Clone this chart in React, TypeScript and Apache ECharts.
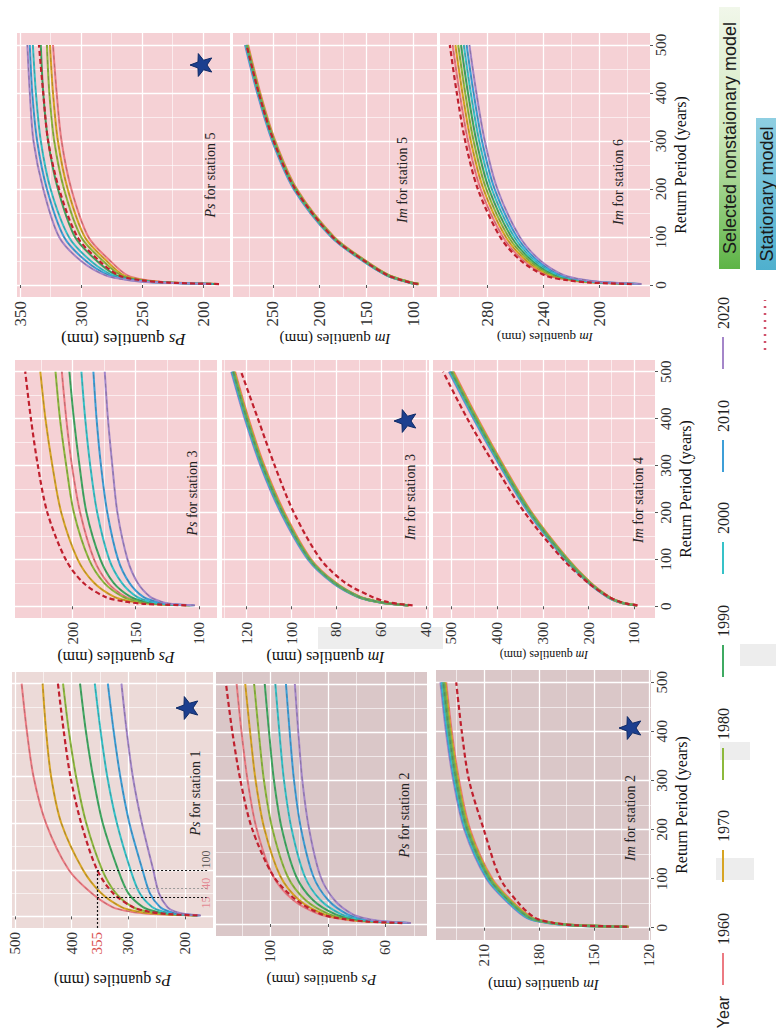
import React, { useEffect, useRef } from 'react';
import * as echarts from 'echarts';

// ---------------- data ----------------
const RP = [2, 5, 10, 20, 50, 100, 200, 300, 400, 500];
const RP_MAJOR = [0, 100, 200, 300, 400, 500];
const RP_MINOR = [50, 150, 250, 350, 450];
const YEARS = ['1960', '1970', '1980', '1990', '2000', '2010', '2020'];

// Ps station 5
const PS5_YEARS = [
  [188, 225, 246, 262, 276, 294, 308, 316, 320, 323],
  [189, 227, 249, 265, 279, 297, 311, 319, 323, 325.5],
  [190, 229, 251, 267, 282, 300, 314, 322, 326, 328],
  [191, 231, 254, 271, 287, 305, 319, 327, 331, 333],
  [192, 233, 257, 274, 292, 310, 325, 333, 337, 339.5],
  [193, 235, 259, 277, 296, 314, 328, 336, 340, 342],
  [194, 237, 261, 280, 300, 318, 331, 339, 342, 344],
];
const PS5_STAT = [187, 228, 251, 269, 285, 303, 318, 327, 331, 334.5];
const PS5_MAJOR = [200, 250, 300, 350];
const PS5_MINOR = [225, 275, 325];

// Im station 5
const IM5_YEARS = [
  [94, 102, 111, 126, 150.5, 184.5, 224.5, 247.5, 263.5, 276.5],
  [94, 102, 111, 126, 151, 185, 225, 248, 264, 277],
  [94.5, 102.5, 111.5, 126.5, 151.5, 185.5, 225.5, 248.5, 264.5, 277.5],
  [95, 103, 112, 127, 152, 186, 226, 249, 265, 278],
  [95.5, 103.5, 112.5, 127.5, 152.5, 186.5, 226.5, 249.5, 265.5, 278.5],
  [96, 104, 113, 128, 153, 187, 227, 250, 266, 279],
  [96, 104, 113, 128, 153.5, 187.5, 227.5, 250.5, 266.5, 279.5],
];
const IM5_STAT = [95, 103, 112, 127, 152, 186, 226, 249, 265, 278];
const IM5_MAJOR = [100, 150, 200, 250];
const IM5_MINOR = [125, 175, 225, 275];

// Im station 6
const IM6_YEARS = [
  [176, 204, 221, 237, 254, 269, 285, 294, 300, 305],
  [175, 203, 219, 235, 252, 267, 283, 292, 298, 303],
  [174, 201, 217, 233, 250, 265, 281, 290, 296, 301],
  [173, 199, 215, 231, 248, 263, 279, 288, 294, 299],
  [172, 197, 213, 229, 246, 261, 277, 286, 292, 297],
  [171, 195, 211, 227, 244, 259, 275, 284, 290, 295],
  [170, 193, 209, 225, 242, 257, 273, 282, 288, 293],
];
const IM6_STAT = [177, 206, 223, 239, 256, 271, 287, 296, 302, 307];
const IM6_MAJOR = [200, 240, 280];
const IM6_MINOR = [180, 220, 260, 300];

// Ps station 3
const PS3_YEARS = [
  [107, 132, 146, 158, 172, 183, 194, 200.5, 205, 208.5],
  [108, 137, 153, 167, 183, 196, 209, 216, 221.5, 225.5],
  [107, 134, 147.5, 160, 175, 187, 199, 205, 210, 213.5],
  [106, 130, 142.5, 154, 167.5, 178, 189, 194.5, 199, 202.5],
  [105, 127, 138.5, 149, 161, 171, 180.5, 186, 190, 193],
  [104, 124, 134, 144, 155, 164, 172.5, 177.5, 181, 183.5],
  [103, 121, 130, 138.5, 148.5, 156.5, 164.5, 168.5, 172, 174.5],
];
const PS3_STAT = [110, 142, 158.5, 174, 191.5, 205.5, 220, 227.5, 233, 237.5];
const PS3_MAJOR = [100, 150, 200];
const PS3_MINOR = [125, 175, 225];

// Im station 3
const IM3_YEARS = [
  [47.5, 54.5, 61.5, 69.5, 80.3, 91.3, 103.2, 112.2, 119.2, 125.2],
  [47.7, 54.7, 61.7, 69.7, 80.6, 91.6, 103.5, 112.5, 119.5, 125.5],
  [47.9, 54.9, 61.9, 69.9, 80.8, 91.8, 103.8, 112.8, 119.8, 125.8],
  [48, 55, 62, 70, 81, 92, 104, 113, 120, 126],
  [48.1, 55.1, 62.1, 70.1, 81.2, 92.2, 104.2, 113.2, 120.2, 126.2],
  [48.3, 55.3, 62.3, 70.3, 81.4, 92.4, 104.5, 113.5, 120.5, 126.5],
  [48.5, 55.5, 62.5, 70.5, 81.7, 92.7, 104.8, 113.8, 120.8, 126.8],
];
const IM3_STAT = [46, 52, 58, 64, 76, 87, 99, 107.5, 115, 122.5];
const IM3_MAJOR = [40, 60, 80, 100, 120];
const IM3_MINOR = [50, 70, 90, 110, 130];

// Im station 4
const IM4_YEARS = [
  [94, 115.5, 133.5, 155, 195.5, 245, 324.5, 386, 442.5, 495],
  [94.3, 116, 134, 155.7, 196.3, 246, 325.7, 387.3, 444, 496.7],
  [94.7, 116.5, 134.5, 156.3, 197.2, 247, 326.8, 388.7, 445.5, 498.3],
  [95, 117, 135, 157, 198, 248, 328, 390, 447, 500],
  [95.3, 117.5, 135.5, 157.7, 198.8, 249, 329.2, 391.3, 448.5, 501.7],
  [95.7, 118, 136, 158.3, 199.7, 250, 330.3, 392.7, 450, 503.3],
  [96, 118.5, 136.5, 159, 200.5, 251, 331.5, 394, 451.5, 505],
];
const IM4_STAT = [93, 114, 133, 156, 201, 256, 340, 405, 465, 518];
const IM4_MAJOR = [100, 200, 300, 400, 500];
const IM4_MINOR = [150, 250, 350, 450];

// Ps station 1
const PS1_YEARS = [
  [185, 255, 295, 328, 365, 405, 445, 467, 479, 488],
  [182, 245, 282, 312, 348, 380, 418, 436, 445, 451],
  [180, 232, 264, 292, 322, 346, 374, 392, 405, 415],
  [178, 222, 250, 274, 300, 318, 345, 362, 375, 385],
  [176, 214, 238, 258, 280, 296, 320, 337, 349, 359],
  [174, 207, 227, 244, 262, 275, 298, 314, 326, 336],
  [172, 200, 217, 231, 246, 256, 276, 292, 303, 312],
];
const PS1_STAT = [178, 232, 264, 292, 327, 355, 383, 402, 414, 424];
const PS1_MAJOR = [200, 300, 400, 500];
const PS1_MINOR = [250, 350, 450];
const PS1_LABELS = [200, 300, 355, 400, 500];
const PS1_MARK_Q = 355;
const PS1_MARK_RP = [40, 60, 100];
const PS1_NOTE_TEXT = ['15', '40', '100'];
const PS1_NOTE_RP = [30, 70, 122];

// Ps station 2
const PS2_YEARS = [
  [54, 66.7, 74.8, 82.9, 92.1, 99.1, 104.9, 108, 110.1, 111.8],
  [53.5, 65.7, 73.4, 81.2, 90, 96.6, 102.2, 105.2, 107.1, 108.8],
  [53, 64.6, 72, 79.4, 87.8, 94.1, 99.4, 102.3, 104.1, 105.7],
  [52.5, 63.4, 70.3, 77.3, 85.2, 91.1, 96.1, 98.8, 100.5, 102],
  [52, 62.2, 68.7, 75.2, 82.6, 88.1, 92.7, 95.3, 96.9, 98.3],
  [51.5, 61, 67, 73.1, 79.9, 85.1, 89.4, 91.8, 93.3, 94.6],
  [51, 59.9, 65.6, 71.3, 77.7, 82.6, 86.6, 88.9, 90.3, 91.5],
];
const PS2_STAT = [54, 66, 74, 82, 91, 99, 106.5, 110.5, 113.3, 115.5];
const PS2_MAJOR = [60, 80, 100];
const PS2_MINOR = [50, 70, 90, 110];

// Im station 2
const IM2_YEARS = [
  [131, 159.5, 172.5, 183.5, 193.5, 205.5, 217.5, 223.5, 227.5, 230.5],
  [131.3, 160, 173, 184, 194, 206, 218, 224, 228, 231],
  [131.7, 160.5, 173.5, 184.5, 194.5, 206.5, 218.5, 224.5, 228.5, 231.5],
  [132, 161, 174, 185, 195, 207, 219, 225, 229, 232],
  [132.3, 161.5, 174.5, 185.5, 195.5, 207.5, 219.5, 225.5, 229.5, 232.5],
  [132.7, 162, 175, 186, 196, 208, 220, 226, 230, 233],
  [133, 162.5, 175.5, 186.5, 196.5, 208.5, 220.5, 226.5, 230.5, 233.5],
];
const IM2_STAT = [132, 160, 172, 182, 191, 201, 210, 218, 222, 225];
const IM2_MAJOR = [120, 150, 180, 210];
const IM2_MINOR = [135, 165, 195, 225];

// ---------------- styles / layout ----------------
const SERIF = "'Liberation Serif', 'Times New Roman', serif";
const SANS = "'Liberation Sans', Arial, sans-serif";
const YEAR_COLORS = ['#EC7A82', '#D7A423', '#8DB93C', '#3FAA62', '#36C2C8', '#3D9FD8', '#A486C9'];
const STAT_COLOR = '#C0202E';
const PINK = '#F5D1D5';

const PANELS = [
  { id: 'ps5', kind: 'Ps', station: 5, years: PS5_YEARS, stat: PS5_STAT, range: [178, 352.5], majors: PS5_MAJOR, minors: PS5_MINOR },
  { id: 'im5', kind: 'Im', station: 5, years: IM5_YEARS, stat: IM5_STAT, range: [74.5, 292.5], majors: IM5_MAJOR, minors: IM5_MINOR, band: true },
  { id: 'im6', kind: 'Im', station: 6, years: IM6_YEARS, stat: IM6_STAT, range: [164, 314], majors: IM6_MAJOR, minors: IM6_MINOR },
  { id: 'ps3', kind: 'Ps', station: 3, years: PS3_YEARS, stat: PS3_STAT, range: [85.6, 245.6], majors: PS3_MAJOR, minors: PS3_MINOR },
  { id: 'im3', kind: 'Im', station: 3, years: IM3_YEARS, stat: IM3_STAT, range: [38.7, 131], majors: IM3_MAJOR, minors: IM3_MINOR, band: true },
  { id: 'im4', kind: 'Im', station: 4, years: IM4_YEARS, stat: IM4_STAT, range: [55, 540], majors: IM4_MAJOR, minors: IM4_MINOR, band: true },
  { id: 'ps1', kind: 'Ps', station: 1, years: PS1_YEARS, stat: PS1_STAT, range: [150.6, 505], majors: PS1_MAJOR, minors: PS1_MINOR, labels: PS1_LABELS },
  { id: 'ps2', kind: 'Ps', station: 2, years: PS2_YEARS, stat: PS2_STAT, range: [45.4, 119], majors: PS2_MAJOR, minors: PS2_MINOR },
  { id: 'im2', kind: 'Im', station: 2, years: IM2_YEARS, stat: IM2_STAT, range: [119, 236], majors: IM2_MAJOR, minors: IM2_MINOR, band: true },
];

const LAYOUT: Record<string, any> = {
  ps5: { left: 17, top: 33, width: 213, height: 264, bg: PINK, tick: 17, title: 17, gap: 34, label: [210, 175], star: [202, 65] },
  im5: { left: 233, top: 33, width: 204, height: 264, bg: PINK, tick: 17, title: 15, gap: 34, label: [402, 180] },
  im6: { left: 440, top: 33, width: 210, height: 264, bg: PINK, tick: 17, title: 13, gap: 34, label: [618, 182], rp: true },
  ps3: { left: 15, top: 360, width: 202, height: 258, bg: PINK, tick: 15, title: 16, gap: 31, label: [192, 493] },
  im3: { left: 222, top: 360, width: 207, height: 258, bg: PINK, tick: 15, title: 16, gap: 31, label: [410, 497], star: [406, 421] },
  im4: { left: 433, top: 360, width: 222, height: 258, bg: PINK, tick: 15, title: 12, gap: 31, label: [638, 500], rp: true },
  ps1: { left: 12, top: 672, width: 201, height: 256, bg: '#ECDAD8', tick: 15, title: 16, gap: 44, label: [195, 793], star: [188, 708] },
  ps2: { left: 216, top: 672, width: 211, height: 264, bg: '#DAC7C8', tick: 15, title: 15, gap: 36, label: [404, 815] },
  im2: { left: 436, top: 670, width: 215, height: 270, bg: '#DAC7C8', tick: 15, title: 15, gap: 37, label: [630, 818], star: [631, 728], rp: true },
};

const LEGEND_X = 723;
const LEGEND_TEXT_Y = [929, 826, 724, 621, 518, 416, 313];

function starPoints(cx: number, cy: number, R: number, r: number) {
  const pts: number[][] = [];
  for (let k = 0; k < 10; k++) {
    const a = Math.PI + (k * Math.PI) / 5;
    const rad = k % 2 === 0 ? R : r;
    pts.push([cx + rad * Math.cos(a), cy + rad * Math.sin(a)]);
  }
  return pts;
}

function vtext(x: number, y: number, text: string, font: any, extra: any = {}) {
  return {
    type: 'text',
    x,
    y,
    rotation: Math.PI / 2,
    silent: true,
    z: 100,
    style: {
      text,
      fontFamily: font.family,
      fontSize: font.size,
      fontStyle: font.style || 'normal',
      fill: font.color || '#222',
      align: 'center',
      verticalAlign: 'middle',
      textAlign: 'center',
      textVerticalAlign: 'middle',
      ...extra,
    },
  };
}

function buildOption() {
  const grid: any[] = [];
  const xAxis: any[] = [];
  const yAxis: any[] = [];
  const series: any[] = [];
  const graphic: any[] = [];

  PANELS.forEach((p, gi) => {
    const L = LAYOUT[p.id];
    grid.push({
      left: L.left, top: L.top, width: L.width, height: L.height,
      show: true, backgroundColor: L.bg, borderWidth: 0, containLabel: false, outerBoundsMode: 'none',
    });
    const xi = xAxis.length;
    const italicRich = { i: { fontStyle: 'italic', fontFamily: SERIF, fontSize: L.title, color: '#111' } };
    xAxis.push({
      type: 'value', gridIndex: gi, min: p.range[0], max: p.range[1], inverse: true, position: 'bottom',
      axisLine: { show: false },
      axisTick: { show: true, customValues: p.majors, length: 3, lineStyle: { color: '#555', width: 1 } },
      axisLabel: {
        show: true, customValues: p.labels || p.majors, rotate: 90, margin: 4,
        fontFamily: SERIF, fontSize: L.tick, color: '#333',
        formatter: (v: number) => (v === PS1_MARK_Q && p.labels ? '{r|' + v + '}' : String(v)),
        rich: { r: { color: '#D9534F', fontFamily: SERIF, fontSize: L.tick } },
      },
      splitLine: { show: true, lineStyle: { color: '#ffffff', width: 1.3 } },
      name: '{i|' + p.kind + '} quantiles (mm)', nameLocation: 'middle', nameGap: L.gap, nameRotate: 180,
      nameTextStyle: { fontFamily: SERIF, fontSize: L.title, color: '#111', rich: italicRich },
    });
    xAxis.push({
      type: 'value', gridIndex: gi, min: p.range[0], max: p.range[1], inverse: true, position: 'top',
      axisLine: { show: false }, axisTick: { show: false, customValues: p.minors }, axisLabel: { show: false },
      splitLine: { show: true, lineStyle: { color: '#ffffff', width: 0.6 } },
    });
    const yi = yAxis.length;
    yAxis.push({
      type: 'value', gridIndex: gi, min: -25, max: 525, position: 'right',
      axisLine: { show: false },
      axisTick: { show: !!L.rp, customValues: RP_MAJOR, length: 3, lineStyle: { color: '#555', width: 1 } },
      axisLabel: { show: !!L.rp, customValues: RP_MAJOR, rotate: 90, margin: 3, fontFamily: SERIF, fontSize: 15, color: '#333' },
      splitLine: { show: true, lineStyle: { color: '#ffffff', width: 1.3 } },
      name: L.rp ? 'Return Period (years)' : '', nameLocation: 'middle', nameGap: 22, nameRotate: 90,
      nameTextStyle: { fontFamily: SERIF, fontSize: 16, color: '#111' },
    });
    yAxis.push({
      type: 'value', gridIndex: gi, min: -25, max: 525, position: 'left',
      axisLine: { show: false }, axisTick: { show: false, customValues: RP_MINOR }, axisLabel: { show: false },
      splitLine: { show: true, lineStyle: { color: '#ffffff', width: 0.6 } },
    });

    const order = p.band ? [6, 5, 4, 0, 1, 2, 3] : [0, 1, 2, 3, 4, 5, 6];
    order.forEach((k) => {
      const data = p.years[k].map((v, j) => [v, RP[j]]);
      series.push({
        type: 'line', name: YEARS[k], xAxisIndex: xi, yAxisIndex: yi, data,
        showSymbol: false, symbol: 'none', smooth: 0.3, silent: true,
        lineStyle: { color: p.band ? (k === 3 ? '#5FA768' : YEAR_COLORS[k]) : YEAR_COLORS[k], width: p.band ? 2.4 : 2 },
        z: 3,
      });
      // faint grey dash running along each curve, as in the reference
      series.push({
        type: 'line', xAxisIndex: xi, yAxisIndex: yi, data,
        showSymbol: false, symbol: 'none', smooth: 0.3, silent: true,
        lineStyle: { color: 'rgba(70,70,70,0.3)', width: 1, type: [4, 4] },
        z: 3,
      });
    });
    const statSeries: any = {
      type: 'line', name: 'Stationary', xAxisIndex: xi, yAxisIndex: yi,
      data: p.stat.map((v, j) => [v, RP[j]]),
      showSymbol: false, symbol: 'none', smooth: 0.3, silent: true,
      lineStyle: { color: STAT_COLOR, width: 2.2, type: [5, 3] },
      z: 4,
    };
    if (p.labels) {
      const qEdge = p.range[0] + 10;
      statSeries.markLine = {
        silent: true, symbol: ['none', 'none'], label: { show: false },
        lineStyle: { type: [2, 2], color: '#111', width: 1.2 },
        data: [
          [{ coord: [PS1_MARK_Q, -25] }, { coord: [PS1_MARK_Q, PS1_MARK_RP[2]] }],
          [{ coord: [PS1_MARK_Q, PS1_MARK_RP[2]] }, { coord: [qEdge, PS1_MARK_RP[2]] }],
          [{ coord: [PS1_MARK_Q, PS1_MARK_RP[0]] }, { coord: [qEdge, PS1_MARK_RP[0]] }],
          [{ coord: [PS1_MARK_Q, PS1_MARK_RP[1]], lineStyle: { color: '#9a9a9a', type: [2, 2], width: 1.2 } }, { coord: [qEdge, PS1_MARK_RP[1]] }],
        ],
      };
      series.push({
        type: 'scatter', xAxisIndex: xi, yAxisIndex: yi, symbolSize: 0.1, silent: true,
        itemStyle: { color: 'rgba(0,0,0,0)' },
        data: PS1_NOTE_TEXT.map((t, k) => ({
          value: [p.range[0] + 12, PS1_NOTE_RP[k]],
          label: { formatter: t, color: k === 2 ? '#333' : '#E0707E' },
        })),
        label: { show: true, position: 'inside', rotate: 90, fontFamily: SERIF, fontSize: 12 },
        z: 6,
      });
    }
    series.push(statSeries);

    // panel label
    graphic.push({
      type: 'text', x: L.label[0], y: L.label[1], rotation: Math.PI / 2, silent: true, z: 100,
      style: {
        text: '{i|' + p.kind + '} for station ' + p.station,
        fontFamily: SERIF, fontSize: 14, fill: '#222',
        align: 'center', verticalAlign: 'middle', textAlign: 'center', textVerticalAlign: 'middle',
        rich: { i: { fontStyle: 'italic', fontFamily: SERIF, fontSize: 14, fill: '#222' } },
      },
    });
    if (L.star) {
      graphic.push({
        type: 'polygon', silent: true, z: 100,
        shape: { points: starPoints(L.star[0], L.star[1], 12, 5) },
        style: { fill: '#1C3F8F', stroke: '#0E2A66', lineWidth: 1 },
      });
    }
  });

  // light grey blocks
  const greys = [[318, 627, 125, 22], [716, 858, 38, 22], [720, 742, 30, 18], [740, 644, 36, 22]];
  greys.forEach((g) => {
    graphic.push({ type: 'rect', silent: true, z: -1, shape: { x: g[0], y: g[1], width: g[2], height: g[3] }, style: { fill: '#EDEDED' } });
  });

  // legend (rotated)
  graphic.push(vtext(LEGEND_X, 1012, 'Year', { family: SANS, size: 16, color: '#222' }));
  YEARS.forEach((yr, k) => {
    const ty = LEGEND_TEXT_Y[k];
    graphic.push({
      type: 'line', silent: true, z: 100,
      shape: { x1: LEGEND_X, y1: ty + 56, x2: LEGEND_X, y2: ty + 24 },
      style: { stroke: YEAR_COLORS[k], lineWidth: 2 },
    });
    graphic.push(vtext(LEGEND_X, ty, yr, { family: SERIF, size: 16, color: '#222' }));
  });
  graphic.push({
    type: 'line', silent: true, z: 100,
    shape: { x1: 765, y1: 350, x2: 765, y2: 300 },
    style: { stroke: '#D0506A', lineWidth: 2.5, lineDash: [2, 5] },
  });
  graphic.push({
    type: 'rect', silent: true, z: 90,
    shape: { x: 719, y: 7, width: 21, height: 262 },
    style: {
      fill: new echarts.graphic.LinearGradient(0, 0, 0, 1, [
        { offset: 0, color: '#F1F7EA' },
        { offset: 0.45, color: '#D4EAC2' },
        { offset: 1, color: '#5DB446' },
      ]),
    },
  });
  graphic.push(vtext(729.5, 138, 'Selected nonstaionary model', { family: SANS, size: 18, color: '#1a1a1a' }));
  graphic.push({
    type: 'rect', silent: true, z: 90,
    shape: { x: 756, y: 118, width: 21, height: 152 },
    style: {
      fill: new echarts.graphic.LinearGradient(0, 0, 0, 1, [
        { offset: 0, color: '#8FCFE2' },
        { offset: 1, color: '#4FB0CE' },
      ]),
    },
  });
  graphic.push(vtext(766.5, 194, 'Stationary model', { family: SANS, size: 18, color: '#1a1a1a' }));

  return {
    animation: false,
    backgroundColor: '#ffffff',
    grid, xAxis, yAxis, series, graphic,
  };
}

export default function App() {
  const ref = useRef<HTMLDivElement>(null);
  useEffect(() => {
    if (!ref.current) return;
    const chart = echarts.init(ref.current, null, { renderer: 'svg', width: 776, height: 1033 });
    chart.setOption(buildOption() as any);
    return () => chart.dispose();
  }, []);
  return (
    <div
      ref={ref}
      style={{ position: 'absolute', left: 0, top: 0, width: 776, height: 1033, background: '#fff' }}
    />
  );
}
